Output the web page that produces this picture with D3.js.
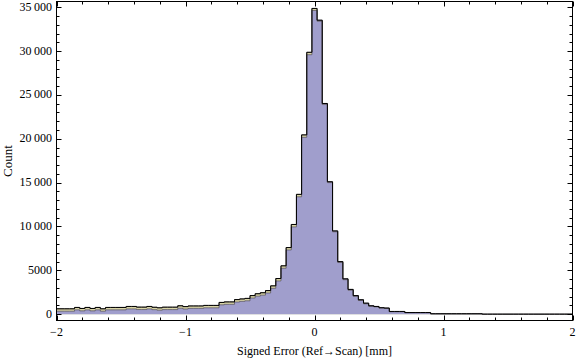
<!DOCTYPE html>
<html><head><meta charset="utf-8">
<script src="https://cdn.jsdelivr.net/npm/d3@7"></script>
<style>
html,body{margin:0;padding:0;background:#fff;}
text{font-family:"Liberation Serif","Times New Roman",serif;fill:#000;}
</style></head>
<body><svg id="c" width="576" height="360"></svg>
<script>
// Histogram bins: width 0.04, first bin starts at -2.02
const binStart = -2.02;
const binWidth = 0.04;
// tan series (behind)
const tanCounts = [
615,615,615,615,768,653,768,653,768,615,
768,768,768,768,880,880,805,805,880,790,
730,800,800,800,960,865,940,940,940,1000,
1000,1000,1340,1400,1400,1665,1740,1800,2120,2333,
2447,2690,3230,4066,5515,7596,10227,13660,20443,29858,
34858,
33400,23900,15000,9390,5890,3930,2730,2030,1560,1180,
900,830,700,660,280,280,280,165,165,165,
165,165,35,35,35,35,35,35,35,35,
35,35,0,0,0,0,0,0,0,0,
0,0,0,0,0,0,0,0,0,0];
// lavender series (front)
const lavenderCounts = [
340,340,340,340,493,378,493,378,493,340,
493,493,493,493,605,605,530,530,605,515,
455,525,525,525,685,590,665,665,665,725,
725,725,1065,1125,1125,1390,1465,1525,1845,2058,
2172,2415,2955,3791,5240,7321,9952,13385,20168,29583,
34628,
33519,24024,15100,9494,5994,4030,2825,2120,1647,1258,
960,880,740,700,310,310,310,190,190,190,
190,190,50,50,50,50,50,50,50,50,
50,50,5,5,5,5,5,5,5,5,
5,5,5,5,5,5,5,5,5,5];
const xTicks = [-2,-1,0,1,2];
const xTickLabels = ["\u22122","\u22121","0","1","2"];
const yTicks = [0,5000,10000,15000,20000,25000,30000,35000];
const yTickLabels = ["0","5000","10\u2009000","15\u2009000","20\u2009000","25\u2009000","30\u2009000","35\u2009000"];
const xLabel = "Signed Error (Ref\u2192Scan) [mm]";
const yLabel = "Count";

const svg = d3.select("#c");
const L=56.5, R=572.5, T=1.5, B=320.5;
const x = d3.scaleLinear().domain([-2,2]).range([L,R]);
const y = d3.scaleLinear().domain([-720,35650]).range([B,T]);

function steps(arr){
  const pts = arr.map((v,i)=>({x0: binStart + i*binWidth, v}));
  pts.push({x0: binStart + arr.length*binWidth, v: arr[arr.length-1]});
  return pts;
}
const tanPts = steps(tanCounts), lavPts = steps(lavenderCounts);
const envPts = steps(tanCounts.map((v,i)=>Math.max(v,lavenderCounts[i])));

svg.append("clipPath").attr("id","clip").append("rect")
  .attr("x",L).attr("y",T).attr("width",R-L).attr("height",B-T);
const g = svg.append("g").attr("clip-path","url(#clip)");

const area = d3.area().curve(d3.curveStepAfter).x(d=>x(d.x0)).y0(y(0)).y1(d=>y(d.v));
const line = d3.line().curve(d3.curveStepAfter).x(d=>x(d.x0)).y(d=>y(d.v));

g.append("path").attr("d",area(tanPts)).attr("fill","#d8d4a6");
g.append("path").attr("d",area(lavPts)).attr("fill","#a09ecc");
g.append("path").attr("d",line(tanPts)).attr("fill","none").attr("stroke","#5a524c").attr("stroke-width",0.8).attr("stroke-opacity",0.8);
g.append("path").attr("d",line(lavPts)).attr("fill","none").attr("stroke","#4a4550").attr("stroke-width",0.8).attr("stroke-opacity",0.8);
g.append("path").attr("d",line(envPts)).attr("fill","none").attr("stroke","#000").attr("stroke-width",1);

// frame
svg.append("rect").attr("x",L).attr("y",T).attr("width",R-L).attr("height",B-T)
  .attr("fill","none").attr("stroke","#000").attr("stroke-width",1);

// ticks
const xMinor = d3.range(-2,2.0001,0.2).map(v=>+v.toFixed(2));
const yMinor = d3.range(0,35001,1000);
const tk = svg.append("g").attr("stroke","#000").attr("stroke-width",1);
xMinor.forEach(v=>{
  const major = Math.abs(v-Math.round(v))<1e-6;
  const len = major?5:3;
  const px = Math.round(x(v))+0.5;
  tk.append("line").attr("x1",px).attr("x2",px).attr("y1",B).attr("y2",B-len);
  tk.append("line").attr("x1",px).attr("x2",px).attr("y1",T).attr("y2",T+len);
});
yMinor.forEach(v=>{
  const major = v%5000===0;
  const len = major?5:3;
  const py = Math.round(y(v))+0.5;
  tk.append("line").attr("x1",L).attr("x2",L+len).attr("y1",py).attr("y2",py);
  tk.append("line").attr("x1",R).attr("x2",R-len).attr("y1",py).attr("y2",py);
});

// labels
xTicks.forEach((v,i)=>{
  svg.append("text").attr("x",x(v)).attr("y",336).attr("text-anchor","middle")
    .attr("font-size",12).text(xTickLabels[i]);
});
yTicks.forEach((v,i)=>{
  svg.append("text").attr("x",52).attr("y",y(v)+3.5).attr("text-anchor","end")
    .attr("font-size",12).text(yTickLabels[i]);
});
svg.append("text").attr("x",(L+R)/2).attr("y",355).attr("text-anchor","middle")
  .attr("font-size",12).text(xLabel);
svg.append("text").attr("transform",`translate(12,${(T+B)/2}) rotate(-90)`)
  .attr("text-anchor","middle").attr("font-size",13).text(yLabel);
</script></body></html>
